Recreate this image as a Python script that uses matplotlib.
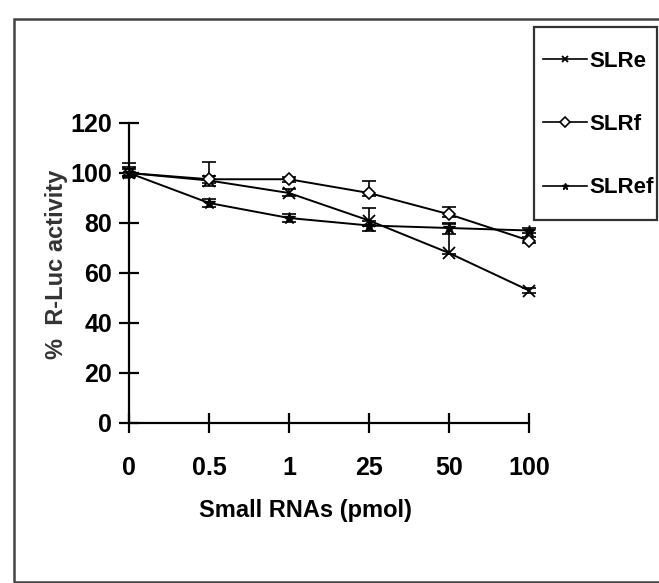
import matplotlib
matplotlib.use("Agg")
import matplotlib.pyplot as plt
from matplotlib.patches import Rectangle
from matplotlib.lines import Line2D

# data
doses = ["0", "0.5", "1", "25", "50", "100"]
slre = [100, 97, 92, 81, 68, 53]
slre_lo = [1, 1, 1, 2, 0.5, 1]
slre_hi = [2.5, 2, 1.5, 5, 12, 1]
slrf = [100, 97.5, 97.5, 92, 83.5, 73]
slrf_lo = [1, 2.5, 1, 1, 1, 1]
slrf_hi = [4, 7, 1, 5, 3, 1.5]
slref = [100, 88, 82, 79, 78, 77]
slref_lo = [1.5, 1.5, 1.5, 2, 2.5, 1]
slref_hi = [1.5, 1.5, 1.5, 2, 1.5, 1]

font = ["Liberation Sans", "DejaVu Sans"]

fig = plt.figure(figsize=(6.59, 5.83), dpi=100)
W, H = 659, 583

# outer frame of the picture
fig.patches.append(Rectangle((14 / W, 1 - 582 / H), (700 - 14) / W, (582 - 19) / H,
                             transform=fig.transFigure, fill=False,
                             edgecolor="#444444", linewidth=1.8))
# legend box, drawn on its own so the entries can sit freely inside
fig.patches.append(Rectangle((534 / W, 1 - 220 / H), 123 / W, 193 / H,
                             transform=fig.transFigure, fill=False,
                             edgecolor="#333333", linewidth=1.6))

ax = fig.add_axes([129 / W, 1 - 423 / H, 400 / W, 300 / H])
x = list(range(len(doses)))

series = [
    ("SLRe", slre, slre_lo, slre_hi, dict(marker="x", markersize=8, mew=1.3)),
    ("SLRf", slrf, slrf_lo, slrf_hi, dict(marker="D", markersize=6, mfc="white", mec="black", mew=1.2)),
    ("SLRef", slref, slref_lo, slref_hi, dict(marker="*", markersize=9, mfc="black", mec="black")),
]
handles = []
for name, vals, lo, hi, mk in series:
    ax.errorbar(x, vals, yerr=[lo, hi], fmt="none", ecolor="black", elinewidth=1.2,
                capsize=5, capthick=1.2, clip_on=False)
    ax.plot(x, vals, color="black", linewidth=1.4, clip_on=False, **mk)
    small = dict(mk)
    small["markersize"] = 5
    handles.append(Line2D([], [], color="black", linewidth=1.2, label=name, **small))

ax.set_xlim(0, len(doses) - 1)
ax.set_ylim(0, 120)
ax.set_xticks(x)
ax.set_xticklabels(doses)
ax.set_yticks(range(0, 121, 20))
for s in ("top", "right"):
    ax.spines[s].set_visible(False)
for s in ("left", "bottom"):
    ax.spines[s].set_linewidth(1.6)
ax.tick_params(direction="inout", length=14, width=1.6, pad=5)
ax.tick_params(axis="x", pad=17)
for lab in ax.get_xticklabels() + ax.get_yticklabels():
    lab.set_family(font)
    lab.set_fontweight("bold")
    lab.set_fontsize(18)
ax.set_xlabel("Small RNAs (pmol)", family=font, fontweight="bold", fontsize=17,
              va="center")
ax.xaxis.set_label_coords(0.44, -0.29)
ax.set_ylabel("%  R-Luc activity", family=font, fontweight="bold", fontsize=17,
              color="#333333", va="center")
ax.yaxis.set_label_coords(-0.18, 0.53)

fig.legend(handles=handles, loc="upper left",
           bbox_to_anchor=(543 / W, 1 - 51 / H),
           frameon=False,
           prop={"family": font, "weight": "bold", "size": 16},
           handlelength=2.0, handletextpad=0.1, labelspacing=1.9,
           borderpad=0, borderaxespad=0)

fig.savefig("out.png", dpi=100)
